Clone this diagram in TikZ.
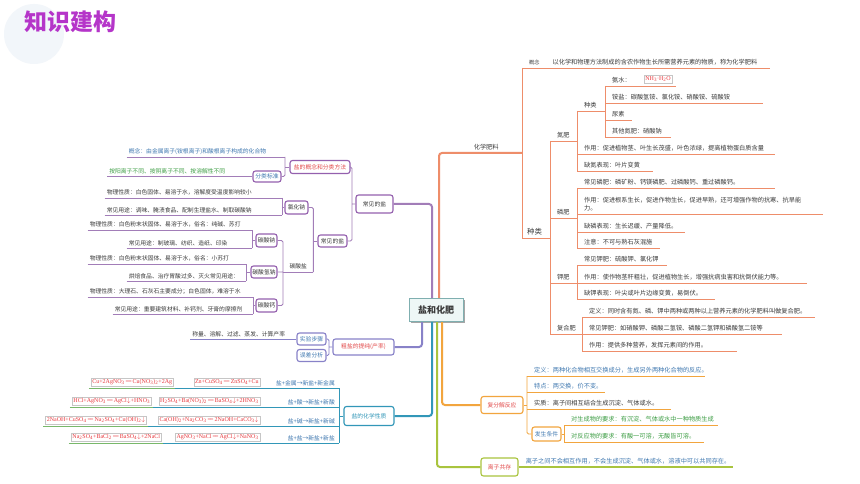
\documentclass[tikz,border=0pt]{standalone}
\usepackage{fontspec}
\setmainfont{Noto Sans CJK SC}
\newfontfamily\eqfont{Liberation Serif}
\usetikzlibrary{positioning,shadows}

\definecolor{ttl}{HTML}{B535C9}
\definecolor{ttlbg}{HTML}{F2F6FA}
\definecolor{txt}{HTML}{3A3A3A}
\definecolor{tblue}{HTML}{3F78B0}
\definecolor{tgreen}{HTML}{3E9E45}
\definecolor{tred}{HTML}{E24B4B}
\definecolor{tealb}{HTML}{3297B8}
\definecolor{eqgr}{HTML}{78B86A}
\definecolor{eqred}{HTML}{E8383D}
\definecolor{pur}{HTML}{A27DB8}
\definecolor{purbd}{HTML}{9460AE}
\definecolor{fert}{HTML}{EE8D6A}
\definecolor{fubd}{HTML}{F2A53E}
\definecolor{lzgr}{HTML}{A9C43E}
\definecolor{crude}{HTML}{8882C8}
\definecolor{rootbg}{HTML}{EEF7F6}
\definecolor{rootbd}{HTML}{7FAFB0}

\newcommand\txtr{\fontsize{6.2}{7.6}\selectfont}
\newcommand\txtl{\fontsize{5.8}{7}\selectfont}
\newcommand\dbleq{\,=\kern-0.12em=\,}
\newcommand\sedi{\ensuremath{\downarrow}}

\tikzset{
  every node/.style={text=txt},
  ln/.style={line width=0.9pt, rounded corners=1.5pt},
  trunk/.style={line width=2pt, rounded corners=3pt},
  bx/.style={draw=#1, fill=white, rounded corners=2.5pt, line width=1.1pt, inner sep=1pt, font=\txtl},
  lr/.style={anchor=south west, inner xsep=7pt, inner ysep=2.4pt, text width=#1pt, align=left, font=\txtr},
  ll/.style={anchor=south east, inner xsep=2pt, inner ysep=2.2pt, text width=#1pt, align=left, font=\txtl},
  eq/.style={draw=gray!45, fill=white, inner sep=1.3pt, text=eqred, font=\eqfont\fontsize{6}{7}\selectfont},
  root/.style={draw=rootbd, fill=rootbg, line width=1pt, minimum width=54, minimum height=23,
    font=\bfseries\fontsize{9}{10}\selectfont,
    drop shadow={shadow xshift=1.5pt, shadow yshift=-1.5pt, fill=black, opacity=0.35}},
}

\begin{document}
\begin{tikzpicture}[x=1pt, y=-1pt]
    \fill[white] (0,0) rectangle (860,484);
    \useasboundingbox (0,0) rectangle (860,484);

    % title
    \fill[ttlbg] (34,34) circle[radius=30pt];
    \node[font=\bfseries\fontsize{23}{26}\selectfont, text=ttl] (ttl) at (70,22) {知识建构};

    % centre
    \node[root] (root) at (436,310) {盐和化肥};

    % ---- 化学肥料 ----
    \node[lr=64, inner xsep=4pt, align=center] (hxfl) at (450,153) {化学肥料};
    \draw[trunk,fert] ([xshift=3pt]root.north) |- (hxfl.south west) -- (hxfl.south east);
    \node[lr=234] (gnr) at (522,68) {{\fontsize{5.2}{6}\selectfont 概念}\hspace{13pt}以化学和物理方法制成的含农作物生长所需营养元素的物质，称为化学肥料};
    \node[lr=18, inner xsep=5pt, font=\fontsize{7.4}{8}\selectfont] (zl) at (522,238) {种类};
    \node[lr=13] (df) at (550,141) {氮肥};
    \node[lr=13] (lf) at (550,218) {磷肥};
    \node[lr=13] (jf) at (550,283) {钾肥};
    \node[lr=18] (fhf) at (550,334) {复合肥};

    % 氮肥
    \node[lr=14] (dzl) at (577,111) {种类};
    \node[lr=184] (dzy) at (577,154) {作用：促进植物茎、叶生长茂盛，叶色浓绿，提高植物蛋白质含量};
    \node[lr=62] (dqd) at (577,171) {缺氮表现：叶片变黄};
    \node[lr=57] (as) at (605,86) {氨水：};
    \node[eq] (nh3) at (658,79) {NH\textsubscript{3}·H\textsubscript{2}O};
    \node[lr=144] (ay) at (605,103) {铵盐：碳酸氢铵、氯化铵、硝酸铵、硫酸铵};
    \node[lr=12.4] (ns) at (605,120) {尿素};
    \node[lr=52] (qt) at (605,137) {其他氮肥：硝酸钠};

    % 磷肥
    \node[lr=184] (cjl) at (577,188) {常见磷肥：磷矿粉、钙镁磷肥、过磷酸钙、重过磷酸钙。};
    \node[lr=232] (lzy) at (577,214) {作用：促进根系生长，促进作物生长，促进早熟，还可增强作物的抗寒、抗旱能\\[1pt]力。};
    \node[lr=94] (lq) at (577,232) {缺磷表现：生长迟缓、产量降低。};
    \node[lr=69] (zy) at (577,248) {注意：不可与熟石灰混施};

    % 钾肥
    \node[lr=76] (cjk) at (577,265) {常见钾肥：硫酸钾、氯化钾};
    \node[lr=216] (kzy) at (577,283) {作用：使作物茎秆粗壮，促进植物生长，增强抗病虫害和抗倒伏能力等。};
    \node[lr=124] (kq) at (577,299) {缺钾表现：叶尖或叶片边缘变黄，易倒伏。};

    % 复合肥
    \node[lr=219] (dy) at (582,317) {定义：同时含有氮、磷、钾中两种或两种以上营养元素的化学肥料叫做复合肥。};
    \node[lr=186] (cjf) at (582,334) {常见钾肥：如硝酸钾、磷酸二氢铵、磷酸二氢钾和磷酸氢二铵等};
    \node[lr=141] (fzy) at (582,351) {作用：提供多种营养，发挥元素间的作用。};

    \foreach \n in {gnr,zl,df,lf,jf,fhf,dzl,dzy,dqd,as,ay,ns,qt,cjl,lzy,lq,zy,cjk,kzy,kq,dy,cjf,fzy}
        \draw[ln,fert] (\n.south west) -- (\n.south east);
    \draw[ln,fert] (gnr.south west) -- (zl.south west);
    \draw[ln,fert] (df.south west) -- (fhf.south west);
    \draw[ln,fert] (dzl.south west) -- (dqd.south west);
    \draw[ln,fert] (as.south west) -- (qt.south west);
    \draw[ln,fert] (cjl.south west) -- (zy.south west);
    \draw[ln,fert] (cjk.south west) -- (kq.south west);
    \draw[ln,fert] (dy.south west) -- (fzy.south west);

    % ---- 复分解反应 ----
    \node[bx=fubd, minimum width=42, minimum height=17, text=tred] (fj) at (502,405) {复分解反应};
    \draw[trunk,fubd] ([xshift=6pt]root.south) |- (fj.west);
    \node[lr=164, text=tblue] (fdy) at (527,376) {定义：两种化合物相互交换成分，生成另外两种化合物的反应。};
    \node[lr=64, text=tblue] (td) at (527,392) {特点：两交换，价不变。};
    \node[lr=130] (sz) at (527,409) {实质：离子间相互结合生成沉淀、气体或水。};
    \node[bx=fubd, minimum width=29, minimum height=14, text=tblue] (fstj) at (546.5,434) {发生条件};
    \node[lr=140, text=tgreen] (sc) at (564,425) {对生成物的要求：有沉淀、气体或水中一种物质生成};
    \node[lr=126, text=tgreen] (fy) at (564,442) {对反应物的要求：有酸一可溶，无酸皆可溶。};
    \foreach \n in {fdy,td,sz,sc,fy}
        \draw[ln,fubd] (\n.south west) -- (\n.south east);
    \draw[ln,fubd] (fdy.south west) |- (fstj.west);
    \draw[ln,fubd] (fj.east) -- (fj.east -| fdy.south west);
    \draw[ln,fubd] (sc.south west) -- (fy.south west);
    \draw[ln,fubd] (fstj.east) -- (fstj.east -| sc.south west);

    % ---- 离子共存 ----
    \node[bx=lzgr, minimum width=37, minimum height=18, text=tred] (lz) at (499.5,467) {离子共存};
    \draw[trunk,lzgr] ([xshift=1pt]root.south) |- (lz.west);
    \node[lr=200, text=tblue] (lzt) at (lz.east) {离子之间不会相互作用，不会生成沉淀、气体或水，溶液中可以共同存在。};
    \draw[ln,lzgr, line width=1.2pt] (lzt.south west) -- (lzt.south east);

    % ---- 盐的化学性质 ----
    \node[bx=tealb, minimum width=50, minimum height=19, text=tealb] (hx) at (369,416) {盐的化学性质};
    \draw[trunk,tealb] ([xshift=-4pt]root.south) |- (hx.east);
    \node[ll=156, inner xsep=4pt, align=right, text=tblue] (r1) at (339,388) {盐+金属→新盐+新金属};
    \node[ll=178, inner xsep=4pt, align=right, text=tblue] (r2) at (339,407) {盐+酸→新盐+新酸};
    \node[ll=183, inner xsep=4pt, align=right, text=tblue] (r3) at (339,426) {盐+碱→新盐+新碱};
    \node[ll=168, inner xsep=4pt, align=right, text=tblue] (r4) at (339,443) {盐+盐→新盐+新盐};
    \node[eq, anchor=south east] (e1a) at ([xshift=-1pt,yshift=2pt]r1.south west) {Cu+2AgNO\textsubscript{3}\dbleq Cu(NO\textsubscript{3})\textsubscript{2}+2Ag};
    \node[eq, anchor=south east] (e1b) at (260,386) {Zn+CuSO\textsubscript{4}\dbleq ZnSO\textsubscript{4}+Cu};
    \node[eq, anchor=south east] (e2a) at ([xshift=-1pt,yshift=2pt]r2.south west) {HCl+AgNO\textsubscript{3}\dbleq AgCl\sedi+HNO\textsubscript{3}};
    \node[eq, anchor=south east] (e2b) at (260,405) {H\textsubscript{2}SO\textsubscript{4}+Ba(NO\textsubscript{3})\textsubscript{2}\dbleq BaSO\textsubscript{4}\sedi+2HNO\textsubscript{3}};
    \node[eq, anchor=south east] (e3a) at ([xshift=-1pt,yshift=2pt]r3.south west) {2NaOH+CuSO\textsubscript{4}\dbleq Na\textsubscript{2}SO\textsubscript{4}+Cu(OH)\textsubscript{2}\sedi};
    \node[eq, anchor=south east] (e3b) at (260,424) {Ca(OH)\textsubscript{2}+Na\textsubscript{2}CO\textsubscript{3}\dbleq 2NaOH+CaCO\textsubscript{3}\sedi};
    \node[eq, anchor=south east] (e4a) at ([xshift=-1pt,yshift=2pt]r4.south west) {Na\textsubscript{2}SO\textsubscript{4}+BaCl\textsubscript{2}\dbleq BaSO\textsubscript{4}\sedi+2NaCl};
    \node[eq, anchor=south east] (e4b) at (260,441) {AgNO\textsubscript{3}+NaCl\dbleq AgCl\sedi+NaNO\textsubscript{3}};
    \foreach \r/\e in {r1/e1a,r2/e2a,r3/e3a,r4/e4a}{
        \draw[ln,tealb] (\r.south west) -- (\r.south east);
        \draw[ln,eqgr] ([xshift=-2pt]\e.south west |- \r.south west) -- (\r.south west);
    }
    \draw[ln,tealb] (r1.south east) -- (r4.south east);
    \draw[ln,tealb] (hx.west) -- (hx.west -| r1.south east);

    % ---- 粗盐的提纯 ----
    \node[bx=crude, minimum width=61, minimum height=16, text=tred] (cs) at (363.5,347) {粗盐的提纯(产率)};
    \draw[trunk,crude] ([xshift=-14pt]root.south) |- (cs.east);
    \node[bx=crude, minimum width=29, minimum height=12, text=tblue] (sybz) at (311.5,339) {实验步骤};
    \node[bx=crude, minimum width=29, minimum height=12, text=tblue] (wcfx) at (311.5,355.5) {误差分析};
    \node[ll=102] (bz) at (sybz.west) {称量、溶解、过滤、蒸发、计算产率};
    \coordinate (b3) at (329,347);
    \draw[ln,crude] (cs.west) -- (b3) (sybz.east) -| (b3) (wcfx.east) -| (b3);
    \draw[ln,crude] (bz.south west) -- (bz.south east);

    % ---- 常见的盐 ----
    \node[bx=purbd, minimum width=37, minimum height=18] (cjy) at (374.5,204) {常见的盐};
    \draw[trunk,pur] ([xshift=-4pt]root.north) |- (cjy.east);
    \node[bx=purbd, minimum width=60, minimum height=13, text=tred] (gn) at (320,167) {盐的概念和分类方法};
    \node[bx=purbd, minimum width=29, minimum height=12] (cj2) at (332.5,241) {常见的盐};
    \coordinate (b1) at (352,204);
    \draw[ln,pur] (cjy.west) -- (b1) (gn.east) -| (b1) (cj2.east) -| (b1);

    % 概念和分类
    \node[ll=154, text=tblue] (gnl) at (285,157) {概念：由金属离子(铵根离子)和酸根离子构成的化合物};
    \node[bx=purbd, minimum width=28, minimum height=11, text=tblue] (flbz) at (267,176.5) {分类标准};
    \node[ll=141, text=tgreen] (flt) at (flbz.west) {按阳离子不同、按阴离子不同、按溶解性不同};
    \draw[ln,pur] (gnl.south east) |- (flbz.east);
    \draw[ln,pur] (gn.west) -- (gn.west -| gnl.south east);

    % 氯化钠 / 碳酸盐
    \node[bx=purbd, minimum width=23, minimum height=13] (nacl) at (296.5,207.5) {氯化钠};
    \node[lr=26, inner xsep=2pt, align=center, font=\txtl] (tsy) at (283,272) {碳酸盐};
    \draw[ln,pur] (cj2.west) -- (cj2.west -| tsy.south east);
    \draw[ln,pur] (nacl.east) -| (tsy.south east);
    \node[ll=173] (nw) at (282,198) {物理性质：白色固体、易溶于水，溶解度受温度影响较小};
    \node[ll=173] (ny) at (282,215) {常见用途：调味、腌渍食品、配制生理盐水、制取碳酸钠};
    \draw[ln,pur] (nw.south east) -- (ny.south east) (nacl.west) -- (nacl.west -| nw.south east);

    \node[bx=purbd, minimum width=21, minimum height=13] (na2co3) at (266.5,240.5) {碳酸钠};
    \node[bx=purbd, minimum width=26, minimum height=12] (nahco3) at (264,272) {碳酸氢钠};
    \node[bx=purbd, minimum width=21, minimum height=13] (caco3) at (266.5,305.5) {碳酸钙};
    \draw[ln,pur] (na2co3.east) -| (tsy.south west) (caco3.east) -| (tsy.south west)
        (nahco3.east) -- (nahco3.east -| tsy.south west);

    \node[ll=160] (sw) at (252,230) {物理性质：白色粉末状固体、易溶于水，俗名：纯碱、苏打};
    \node[ll=121] (sy) at (252,248) {常见用途：制玻璃、纺织、造纸、印染};
    \draw[ln,pur] (sw.south east) -- (sy.south east) (na2co3.west) -- (na2co3.west -| sw.south east);
    \node[ll=154] (qw) at (246,264) {物理性质：白色粉末状固体、易溶于水，俗名：小苏打};
    \node[ll=115] (qy) at (246,281) {烘焙食品、治疗胃酸过多、灭火常见用途：};
    \draw[ln,pur] (qw.south east) -- (qy.south east) (nahco3.west) -- (nahco3.west -| qw.south east);
    \node[ll=161] (gw) at (253,297) {物理性质：大理石、石灰石主要成分；白色固体，难溶于水};
    \node[ll=136] (gy) at (253,314) {常见用途：重要建筑材料、补钙剂、牙膏的摩擦剂};
    \draw[ln,pur] (gw.south east) -- (gy.south east) (caco3.west) -- (caco3.west -| gw.south east);

    \foreach \n in {gnl,flt,tsy,nw,ny,sw,sy,qw,qy,gw,gy}
        \draw[ln,pur] (\n.south west) -- (\n.south east);
\end{tikzpicture}
\end{document}
